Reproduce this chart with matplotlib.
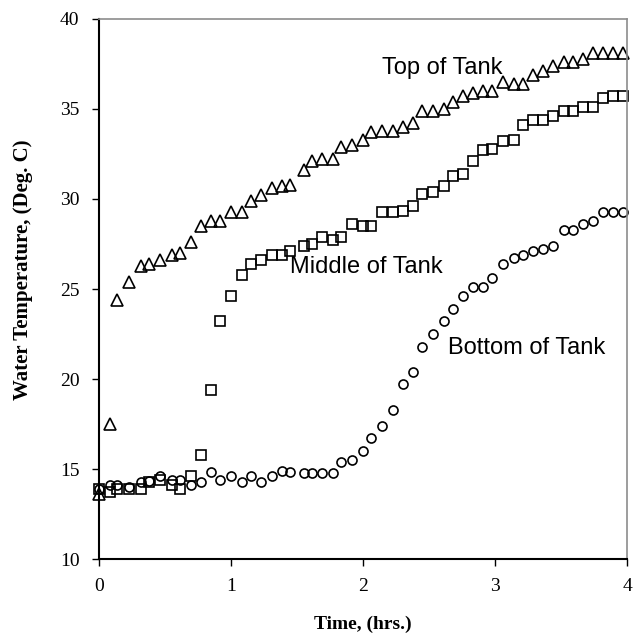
import matplotlib
matplotlib.use("Agg")
import matplotlib.pyplot as plt

# time, hrs
time_hrs = [0.00, 0.08, 0.14, 0.23, 0.32, 0.38, 0.46, 0.55, 0.61, 0.70,
            0.77, 0.85, 0.92, 1.00, 1.08, 1.15, 1.23, 1.31, 1.39, 1.45,
            1.55, 1.61, 1.69, 1.77, 1.83, 1.92, 2.00, 2.06, 2.14, 2.23,
            2.30, 2.38, 2.45, 2.53, 2.61, 2.68, 2.76, 2.83, 2.91, 2.98,
            3.06, 3.14, 3.21, 3.29, 3.36, 3.44, 3.52, 3.59, 3.67, 3.74,
            3.82, 3.89, 3.97]

top_temp = [13.6, 17.5, 24.4, 25.4, 26.3, 26.4, 26.6, 26.9, 27.0, 27.6,
            28.5, 28.8, 28.8, 29.3, 29.3, 29.9, 30.2, 30.6, 30.7, 30.8,
            31.6, 32.1, 32.2, 32.2, 32.9, 33.0, 33.3, 33.7, 33.8, 33.8,
            34.0, 34.2, 34.9, 34.9, 35.0, 35.4, 35.7, 35.9, 36.0, 36.0,
            36.5, 36.4, 36.4, 36.9, 37.1, 37.4, 37.6, 37.6, 37.8, 38.1,
            38.1, 38.1, 38.1]

middle_temp = [13.9, 13.7, 13.9, 13.9, 13.9, 14.3, 14.4, 14.1, 13.9, 14.6,
               15.8, 19.4, 23.2, 24.6, 25.8, 26.4, 26.6, 26.9, 26.9, 27.1,
               27.4, 27.5, 27.9, 27.7, 27.9, 28.6, 28.5, 28.5, 29.3, 29.3,
               29.35, 29.6, 30.3, 30.4, 30.7, 31.3, 31.4, 32.1, 32.7, 32.8,
               33.2, 33.3, 34.1, 34.4, 34.4, 34.6, 34.9, 34.9, 35.1, 35.1,
               35.6, 35.7, 35.7]

bottom_temp = [13.9, 14.1, 14.1, 14.0, 14.3, 14.35, 14.6, 14.4, 14.4, 14.1,
               14.3, 14.85, 14.4, 14.6, 14.3, 14.6, 14.3, 14.6, 14.9, 14.85,
               14.8, 14.8, 14.8, 14.8, 15.4, 15.5, 16.0, 16.7, 17.4, 18.3,
               19.7, 20.4, 21.8, 22.5, 23.2, 23.9, 24.6, 25.1, 25.1, 25.6,
               26.4, 26.7, 26.9, 27.1, 27.2, 27.4, 28.3, 28.3, 28.6, 28.8,
               29.3, 29.3, 29.3]

fig = plt.figure(figsize=(6.44, 6.37), dpi=100)
ax = fig.add_axes([0.1537, 0.1224, 0.82, 0.8478])

mk = dict(linestyle='none', fillstyle='none', color='black', markeredgewidth=1.2, clip_on=False)
ax.plot(time_hrs, top_temp, marker='^', markersize=8, **mk)
ax.plot(time_hrs, middle_temp, marker='s', markersize=6.5, **mk)
ax.plot(time_hrs, bottom_temp, marker='o', markersize=6.5, **mk)

ax.set_xlim(0, 4)
ax.set_ylim(10, 40)
ax.set_xticks([0, 1, 2, 3, 4])
ax.set_yticks([10, 15, 20, 25, 30, 35, 40])

for s in ['left', 'bottom']:
    ax.spines[s].set_color('black')
    ax.spines[s].set_linewidth(1.5)
for s in ['top', 'right']:
    ax.spines[s].set_color('#8c8c8c')
    ax.spines[s].set_linewidth(1.2)

ax.tick_params(direction='out', length=5, width=1, pad=9,
               top=False, right=False, labelsize=14)
for lab in ax.get_xticklabels() + ax.get_yticklabels():
    lab.set_family('Liberation Serif')

ax.set_xlabel('Time, (hrs.)', family='Liberation Serif', fontweight='bold', fontsize=14)
ax.xaxis.set_label_coords(0.5, -0.105)
ax.set_ylabel('Water Temperature, (Deg. C)', family='Liberation Serif',
              fontweight='bold', fontsize=15)
ax.yaxis.set_label_coords(-0.125, 0.535)

lbl = dict(family='Liberation Sans', fontsize=17, va='center', ha='left')
ax.text(2.14, 37.3, 'Top of Tank', **lbl)
ax.text(1.45, 26.2, 'Middle of Tank', **lbl)
ax.text(2.64, 21.7, 'Bottom of Tank', **lbl)

fig.savefig('out.png', dpi=100)
